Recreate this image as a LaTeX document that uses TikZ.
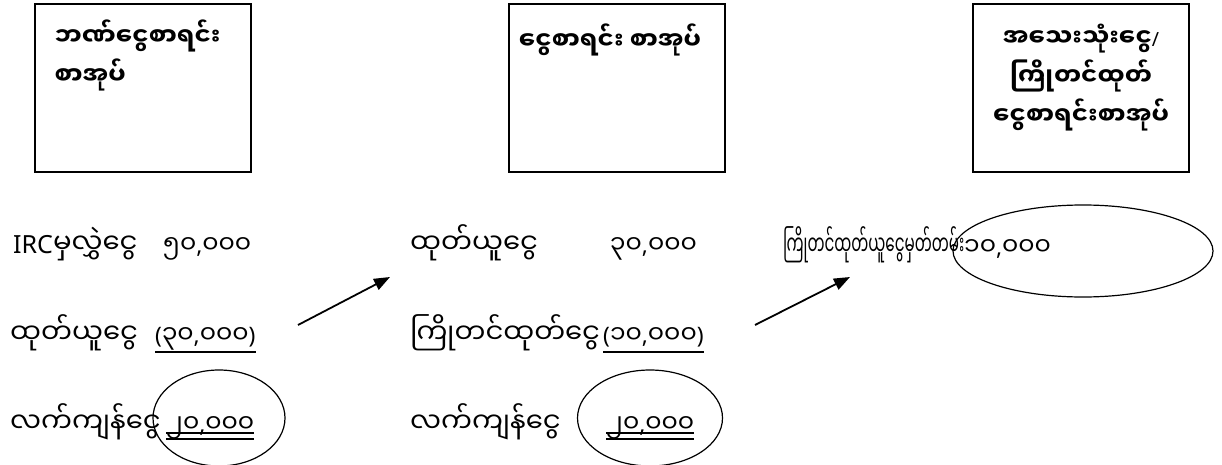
\documentclass[tikz,border=0pt]{standalone}
\usepackage{fontspec}
\setmainfont{Noto Sans}
\newfontfamily\mm[Script=Myanmar,Scale=1.25]{Noto Sans Myanmar UI}
\newfontfamily\mmd[Script=Myanmar,Scale=1.1]{Noto Sans Myanmar UI}
\usetikzlibrary{arrows.meta,calc,positioning,shapes.geometric}
\newcommand{\bookwidth}{216pt}
\newcommand{\bookheight}{168pt}
\newcommand{\kyat}[2]{{\mmd #1},{\mmd #2}}
\tikzset{
  >={Triangle[length=16pt,width=12pt]},
  font=\fontsize{22}{26}\selectfont,
  book/.style={draw,line width=2pt,shape=rectangle,minimum width=\bookwidth,minimum height=\bookheight,inner sep=0},
  title/.style={font=\fontsize{19.5}{39}\selectfont\bfseries\mm,inner sep=0},
  item/.style={anchor=base west,inner sep=0,font=\fontsize{22}{26}\selectfont\mm},
  amount/.style={anchor=base west,inner sep=0,font=\fontsize{22.7}{26}\selectfont},
  oval/.style={draw,line width=1.2pt,shape=ellipse,inner sep=0},
  uline/.style={draw,line width=1.8pt},
  dline/.style={draw,line width=1.3pt},
  line/.style={draw,->,line width=1.8pt},
}
\begin{document}
\begin{tikzpicture}[x=1pt,y=-1pt]
  \useasboundingbox (0,0) rectangle (1222,465);
  % account books
  \node (bank) [book] at (142.5,88) {};
  \node (cash) [book] at (617,88) {};
  \node (petty) [book] at (1081,88) {};
  \node (bankT) [title,align=left,below right=17pt and 21pt of bank.north west] {ဘဏ်ငွေစာရင်း\\စာအုပ်};
  \node (cashT) [title,below=21pt of cash.north,xshift=-7pt] {ငွေစာရင်း စာအုပ်};
  \node (pettyT) [title,align=center,below=21pt of petty.north] {အသေးသုံးငွေ{\rmfamily/}\\ကြိုတင်ထုတ်\\ငွေစာရင်းစာအုပ်};

  % bank column
  \node (bIn) [item] at (13,253) {{\rmfamily\fontsize{25}{26}\selectfont IRC}မှလွှဲငွေ};
  \node (bInA) [amount] at (163,253) {\kyat{၅၀}{၀၀၀}};
  \node (bOut) [item] at (10,343) {ထုတ်ယူငွေ};
  \node (bOutA) [amount] at (155,343) {(\kyat{၃၀}{၀၀၀})};
  \node (bBal) [item] at (10,432) {လက်ကျန်ငွေ};
  \node (bBalA) [amount] at (166,432) {\kyat{၂၀}{၀၀၀}};
  \draw [uline] ($(bOutA.base west)+(0,9)$) -- ($(bOutA.base east)+(0,9)$);
  \draw [dline] ($(bBalA.base west)+(0,1)$) -- ($(bBalA.base east)+(0,1)$);
  \draw [dline] ($(bBalA.base west)+(0,7)$) -- ($(bBalA.base east)+(0,7)$);
  \node (bOval) [oval,minimum width=132pt,minimum height=96pt] at (219,418) {};

  % cash column
  \node (cIn) [item] at (410,253) {ထုတ်ယူငွေ};
  \node (cInA) [amount] at (610,253) {\kyat{၃၀}{၀၀၀}};
  \node (cOut) [item] at (410,343) {ကြိုတင်ထုတ်ငွေ};
  \node (cOutA) [amount] at (603,343) {(\kyat{၁၀}{၀၀၀})};
  \node (cBal) [item] at (410,432) {လက်ကျန်ငွေ};
  \node (cBalA) [amount] at (606,432) {\kyat{၂၀}{၀၀၀}};
  \draw [uline] ($(cOutA.base west)+(0,9)$) -- ($(cOutA.base east)+(0,9)$);
  \draw [dline] ($(cBalA.base west)+(0,1)$) -- ($(cBalA.base east)+(0,1)$);
  \draw [dline] ($(cBalA.base west)+(0,7)$) -- ($(cBalA.base east)+(0,7)$);
  \node (cOval) [oval,minimum width=145pt,minimum height=96pt] at (650,418) {};

  % petty cash
  \node (pRec) [item,xscale=0.55,transform shape] at (783,255) {ကြိုတင်ထုတ်ယူငွေမှတ်တမ်း};
  \node (pRecA) [amount] at (964,255) {\kyat{၁၀}{၀၀၀}};
  \node (pOval) [oval,minimum width=260pt,minimum height=92pt] at (1083,251) {};

  % transfers
  \coordinate (t1) at (298,325);
  \coordinate (h1) at (390,277);
  \coordinate (t2) at (755,325);
  \coordinate (h2) at (850,277);
  \path [line] (t1) -- (h1);
  \path [line] (t2) -- (h2);
\end{tikzpicture}
\end{document}
